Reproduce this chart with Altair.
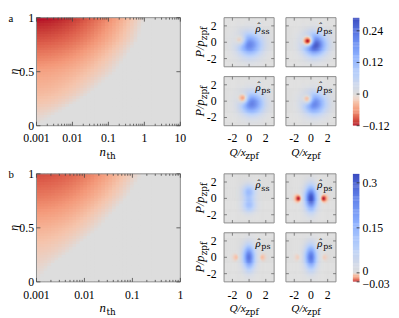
import numpy as np
import pandas as pd
import altair as alt

alt.data_transformers.disable_max_rows()

FONT_NUM = "Liberation Serif"
FONT_SUB = "DejaVu Serif"
FONT_MATH = "Liberation Serif"

# ---------------- values ----------------
# heatmaps: negativity level at n_th = 0.001 and log10(n_th) where it fades to zero
A_ETA_KNOTS = [0.0, 0.1, 0.2, 0.3, 0.5, 0.8, 1.0]
A_LEVEL_AT_LEFT = [0.0, 0.09, 0.22, 0.31, 0.45, 0.80, 1.0]
A_EDGE_LOG_NTH = [-3.0, -2.5, -1.97, -1.5, -0.79, -0.16, 0.02]
B_ETA_KNOTS = [0.0, 0.15, 0.3, 0.5, 0.8, 1.0]
B_LEVEL_AT_LEFT = [0.0, 0.09, 0.20, 0.36, 0.65, 0.82]
B_EDGE_LOG_NTH = [-3.0, -2.7, -2.23, -1.68, -1.07, -0.80]
A_NTH_TICKS = [0.001, 0.01, 0.1, 1, 10]
A_NTH_LABELS = ["0.001", "0.01", "0.1", "1", "10"]
B_NTH_TICKS = [0.001, 0.01, 0.1, 1]
B_NTH_LABELS = ["0.001", "0.01", "0.1", "1"]
ETA_TICKS = [0, 0.5, 1]
ETA_LABELS = ["0", "0.5", "1"]

STATE_LABELS = ["ss", "ps", "ps", "ps"]
QP_TICKS = [-2, 0, 2]
QP_LABELS = ["-2", "0", "2"]

# row a Wigner functions: broad blob minus a narrow dip
A_BLOB_Q = [0.10, 0.45, 0.35, 0.45]
A_BLOB_P = [-0.30, -0.30, -0.30, -0.30]
A_BLOB_SIGMA = [0.95, 0.90, 0.90, 0.90]
A_BLOB_AMP = [0.22, 0.30, 0.23, 0.22]
A_DIP_Q = [-0.95, -0.30, -0.65, -0.35]
A_DIP_P = [0.20, 0.10, 0.30, 0.20]
A_DIP_SIGMA = [0.45, 0.42, 0.40, 0.40]
A_DIP_AMP = [0.10, 0.30, 0.139, 0.147]

# row b Wigner functions: elongated core plus two small negative spots
B_CORE_SIGMA_Q = [0.55, 0.50, 0.50, 0.50]
B_CORE_SIGMA_P = [0.60, 1.00, 1.00, 1.00]
B_CORE_SPLIT_P = [0.80, 0.0, 0.0, 0.0]
B_CORE_AMP = [0.27, 0.32, 0.27, 0.26]
B_SPOT_Q = [1.45, 1.45, 1.45, 1.45]
B_SPOT_SIGMA = [0.30, 0.30, 0.30, 0.30]
B_SPOT_AMP = [0.0, 0.035, 0.012, 0.008]

A_CBAR_TICKS = [-0.12, 0, 0.12, 0.24]
A_CBAR_LABELS = ["\u22120.12", "0", "0.12", "0.24"]
A_CBAR_RANGE = [-0.12, 0.29]
B_CBAR_TICKS = [-0.03, 0, 0.15, 0.3]
B_CBAR_LABELS = ["\u22120.03", "0", "0.15", "0.3"]
B_CBAR_RANGE = [-0.03, 0.33]

COOLWARM = ["#b40426", "#de604d", "#f49a7b", "#f5c4ac", "#dddddd",
            "#b9d0f9", "#8db0fe", "#6282ea", "#3b4cc0"]
HEAT_DOMAIN = [0, 0.25, 0.5, 0.75, 1]
HEAT_RANGE = ["#dddddd", "#f5c4ac", "#f49a7b", "#de604d", "#b40426"]

# ---------------- layout (pixels) ----------------
HM_W, HM_H = 146.5, 110
PW, PH = 51, 50
CB_W = 7
LEFT_PAD, TOP_PAD, BOT_PAD = 28.5, 6, 36
FRAME = "#8c8c8c"
TICK = "#666666"
LBL = 12
A_CBAR_DY = [0, 0, 0, 0]
B_CBAR_DY = [2, -1.5, 0, 0]


def wig_scale(rng):
    lo, hi = rng
    dom = [lo, lo * 0.75, lo * 0.5, lo * 0.25, 0, hi * 0.25, hi * 0.5, hi * 0.75, hi]
    return alt.Scale(domain=dom, range=COOLWARM)


def txt(text, x, y, size, font, style="normal", angle=0, align="left", baseline="alphabetic"):
    return alt.Chart(pd.DataFrame({"t": [text]})).mark_text(
        font=font, fontSize=size, fontStyle=style, angle=angle, align=align,
        baseline=baseline, color="black"
    ).encode(text="t:N", x=alt.value(x), y=alt.value(y))


def box(x1, x2, y1, y2, stroke=None):
    if stroke:
        m = alt.Chart(pd.DataFrame({"f": [0]})).mark_rect(fill="transparent", stroke=stroke, strokeWidth=1)
    else:
        m = alt.Chart(pd.DataFrame({"f": [0]})).mark_rect(fill="transparent", strokeOpacity=0)
    return m.encode(x=alt.value(x1), x2=alt.value(x2), y=alt.value(y1), y2=alt.value(y2))


def xticks(vals, scale, y, y2, color=TICK):
    return alt.Chart(pd.DataFrame({"t": vals})).mark_rule(color=color, strokeWidth=0.8).encode(
        x=alt.X("t:Q", scale=scale, axis=None), y=alt.value(y), y2=alt.value(y2))


def yticks(vals, scale, x, x2, color=TICK):
    return alt.Chart(pd.DataFrame({"t": vals})).mark_rule(color=color, strokeWidth=0.8).encode(
        y=alt.Y("t:Q", scale=scale, axis=None), x=alt.value(x), x2=alt.value(x2))


def xlabels(vals, labels, scale, y):
    return alt.Chart(pd.DataFrame({"t": vals, "s": labels})).mark_text(
        font=FONT_NUM, fontSize=LBL, align="center", baseline="top", color="black"
    ).encode(x=alt.X("t:Q", scale=scale, axis=None), y=alt.value(y), text="s:N")


def ylabels(vals, labels, scale, x, align, dy=0):
    return alt.Chart(pd.DataFrame({"t": vals, "s": labels})).mark_text(
        font=FONT_NUM, fontSize=LBL, align=align, baseline="middle", color="black", dy=dy
    ).encode(y=alt.Y("t:Q", scale=scale, axis=None), x=alt.value(x), text="s:N")


def heatmap(knots, level, edge, ticks, tlabels, letter):
    lmax = np.log10(ticks[-1])
    nx, ny = 40, 40
    lx = np.linspace(-3, lmax, nx + 1)
    ey = np.linspace(0, 1, ny + 1)
    dl = lx[1] - lx[0]
    de = ey[1] - ey[0]
    rows = []
    for j in range(ny):
        em = 0.5 * (ey[j] + ey[j + 1])
        L = float(np.interp(em, knots, level))
        E = float(np.interp(em, knots, edge))
        for i in range(nx):
            lm = 0.5 * (lx[i] + lx[i + 1])
            t = (lm + 3) / max(E + 3, 1e-6)
            v = L * max(0.0, 1 - t * t)
            rows.append((10 ** lx[i], 10 ** (lx[i + 1] + 0.3 * dl), ey[j], ey[j + 1] + 0.3 * de, round(v, 4)))
    df = pd.DataFrame(rows, columns=["n0", "n1", "e0", "e1", "v"])
    xs = alt.Scale(type="log", domain=[0.001, ticks[-1]])
    ys = alt.Scale(domain=[0, 1])
    cells = alt.Chart(df).mark_rect(clip=True).encode(
        x=alt.X("n0:Q", scale=xs, axis=None), x2="n1:Q",
        y=alt.Y("e0:Q", scale=ys, axis=None), y2="e1:Q",
        color=alt.Color("v:Q", scale=alt.Scale(domain=HEAT_DOMAIN, range=HEAT_RANGE), legend=None),
    )
    decades = list(range(-3, int(round(lmax))))
    minor = [k * 10.0 ** d for d in decades for k in range(2, 10)]
    layers = [
        box(-LEFT_PAD, HM_W + 8, -TOP_PAD, HM_H + BOT_PAD),
        cells, box(0, HM_W, 0, HM_H, FRAME),
        xticks(ticks, xs, HM_H, HM_H - 4, "#444"), xticks(minor, xs, HM_H, HM_H - 2, "#444"),
        xticks(ticks, xs, 0, 4, "#444"), xticks(minor, xs, 0, 2, "#444"),
        yticks(ETA_TICKS, ys, 0, 4, "#444"), yticks(ETA_TICKS, ys, HM_W - 4, HM_W, "#444"),
        xlabels(ticks, tlabels, xs, HM_H + 8),
        ylabels(ETA_TICKS, ETA_LABELS, ys, -2.5, "right"),
        txt(letter, -LEFT_PAD, 4, 11, FONT_NUM),
        txt("η", -22.5, HM_H / 2, 12, FONT_MATH, "italic", 270, "center", "middle"),
        txt("n", HM_W / 2 - 2.5, HM_H + 31, 13, FONT_MATH, "italic", 0, "right"),
        txt("th", HM_W / 2 - 2, HM_H + 33.5, 9, FONT_SUB),
    ]
    return alt.layer(*layers).properties(width=HM_W, height=HM_H)


def wig_panel(W, cscale, state, left, bottom, n=48):
    g = np.linspace(-3, 3, n + 1)
    st = g[1] - g[0]
    c = 0.5 * (g[:-1] + g[1:])
    Q, P = np.meshgrid(c, c)
    Z = W(Q, P)
    df = pd.DataFrame({
        "q0": np.round(Q.ravel() - st / 2, 4), "q1": np.round(Q.ravel() + st * 0.8, 4),
        "p0": np.round(P.ravel() - st / 2, 4), "p1": np.round(P.ravel() + st * 0.8, 4),
        "w": np.round(Z.ravel(), 4)})
    qs = alt.Scale(domain=[-3, 3])
    ps = alt.Scale(domain=[-3, 3])
    cells = alt.Chart(df).mark_rect(clip=True).encode(
        x=alt.X("q0:Q", scale=qs, axis=None), x2="q1:Q",
        y=alt.Y("p0:Q", scale=ps, axis=None), y2="p1:Q",
        color=alt.Color("w:Q", scale=cscale, legend=None),
    )
    layers = [
        box(-30 if left else 0, PW + 1, 0 if bottom else -TOP_PAD, PH + BOT_PAD if bottom else PH),
        cells, box(0, PW, 0, PH, FRAME),
        xticks(QP_TICKS, qs, PH, PH - 3), xticks(QP_TICKS, qs, 0, 3),
        yticks(QP_TICKS, ps, 0, 3), yticks(QP_TICKS, ps, PW - 3, PW),
        txt("ρ", PW - 19, 14.5, 11, FONT_MATH, "italic"),
        txt("ˆ", PW - 15.5, 13, 10, FONT_SUB, "normal", 0, "center"),
        txt(state, PW - 13, 17, 8, FONT_SUB),
    ]
    if left:
        layers += [
            ylabels(QP_TICKS, QP_LABELS, ps, -7.5, "right"),
            txt("P/p", -20, PH / 2 + 15.5, 12.5, FONT_MATH, "italic", 270, "left"),
            txt("zpf", -17.5, PH / 2 - 2, 9, FONT_SUB, "normal", 270, "left"),
        ]
    if bottom:
        layers += [
            xlabels(QP_TICKS, QP_LABELS, qs, PH + 8),
            txt("Q/x", PW / 2 - 20, PH + 31, 11.5, FONT_MATH, "italic", 0, "left"),
            txt("zpf", PW / 2 - 4, PH + 33.5, 9, FONT_SUB),
        ]
    return alt.layer(*layers).properties(width=PW, height=PH)


def colorbar(rng, ticks, tlabels, dys, cscale):
    lv = np.linspace(rng[0], rng[1], 101)
    st = lv[1] - lv[0]
    df = pd.DataFrame({"lo": lv[:-1], "hi": lv[1:] + 0.3 * st, "v": 0.5 * (lv[:-1] + lv[1:])})
    ys = alt.Scale(domain=rng)
    bar = alt.Chart(df).mark_rect(clip=True).encode(
        y=alt.Y("lo:Q", scale=ys, axis=None), y2="hi:Q",
        x=alt.value(0), x2=alt.value(CB_W),
        color=alt.Color("v:Q", scale=cscale, legend=None),
    )
    layers = [box(0, CB_W, -TOP_PAD, HM_H + BOT_PAD), bar, yticks(ticks, ys, CB_W - 3, CB_W, "#222")]
    for t, s, d in zip(ticks, tlabels, dys):
        layers.append(ylabels([t], [s], ys, CB_W + 3, "left", d))
    return alt.layer(*layers).properties(width=CB_W, height=HM_H)


def row(heat, panels, cbar):
    block = alt.concat(*panels, columns=2, spacing={"row": 10, "column": 12},
                       bounds="flush").resolve_scale(color="independent")
    right = alt.hconcat(block, cbar, spacing=14).resolve_scale(color="independent")
    return alt.hconcat(heat, right, spacing=5).resolve_scale(color="independent")


def a_func(k):
    def f(Q, P):
        blob = A_BLOB_AMP[k] * np.exp(-((Q - A_BLOB_Q[k]) ** 2 + (P - A_BLOB_P[k]) ** 2) / (2 * A_BLOB_SIGMA[k] ** 2))
        dip = A_DIP_AMP[k] * np.exp(-((Q - A_DIP_Q[k]) ** 2 + (P - A_DIP_P[k]) ** 2) / (2 * A_DIP_SIGMA[k] ** 2))
        return blob - dip
    return f


def b_func(k):
    def f(Q, P):
        sq, sp, s = B_CORE_SIGMA_Q[k], B_CORE_SIGMA_P[k], B_CORE_SPLIT_P[k]
        core = 0.5 * B_CORE_AMP[k] * np.exp(-Q ** 2 / (2 * sq ** 2)) * (
            np.exp(-(P - s) ** 2 / (2 * sp ** 2)) + np.exp(-(P + s) ** 2 / (2 * sp ** 2)))
        q0, ss = B_SPOT_Q[k], B_SPOT_SIGMA[k]
        spots = B_SPOT_AMP[k] * (np.exp(-((Q - q0) ** 2 + P ** 2) / (2 * ss ** 2)) +
                                 np.exp(-((Q + q0) ** 2 + P ** 2) / (2 * ss ** 2)))
        return core - spots
    return f


sa = wig_scale(A_CBAR_RANGE)
sb = wig_scale(B_CBAR_RANGE)
pos = [(True, False), (False, False), (True, True), (False, True)]

row_a = row(
    heatmap(A_ETA_KNOTS, A_LEVEL_AT_LEFT, A_EDGE_LOG_NTH, A_NTH_TICKS, A_NTH_LABELS, "a"),
    [wig_panel(a_func(k), sa, STATE_LABELS[k], *pos[k]) for k in range(4)],
    colorbar(A_CBAR_RANGE, A_CBAR_TICKS, A_CBAR_LABELS, A_CBAR_DY, sa),
)
row_b = row(
    heatmap(B_ETA_KNOTS, B_LEVEL_AT_LEFT, B_EDGE_LOG_NTH, B_NTH_TICKS, B_NTH_LABELS, "b"),
    [wig_panel(b_func(k), sb, STATE_LABELS[k], *pos[k]) for k in range(4)],
    colorbar(B_CBAR_RANGE, B_CBAR_TICKS, B_CBAR_LABELS, B_CBAR_DY, sb),
)

chart = alt.vconcat(row_a, row_b, spacing=5).resolve_scale(
    color="independent"
).properties(padding=0).configure_view(stroke="transparent")

chart.save("out.html", embed_options={"renderer": "svg", "actions": False})
